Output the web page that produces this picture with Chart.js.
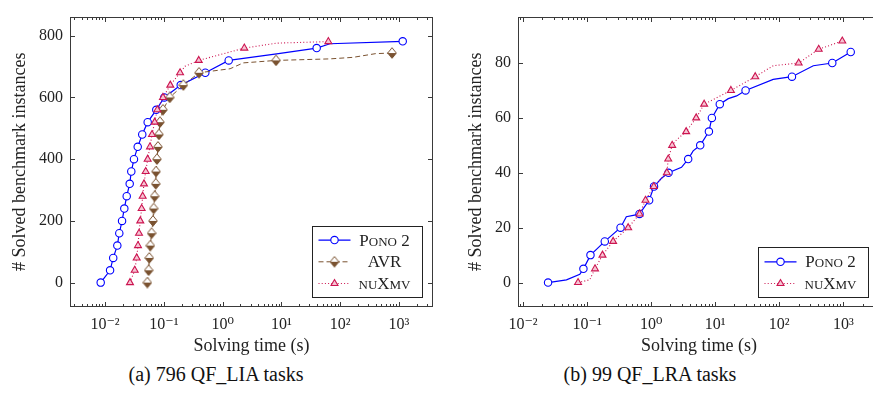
<!DOCTYPE html>
<html>
<head>
<meta charset="utf-8">
<script src="https://cdn.jsdelivr.net/npm/chart.js@4/dist/chart.umd.min.js"></script>
<style>
html, body { margin: 0; padding: 0; background: #fff; overflow: hidden; width: 873px; height: 401px; }
canvas { position: absolute; top: 0; }
#liaChart { left: 0; }
#lraChart { left: 440px; }
.cap { position: absolute; top: 364px; font: 20px/20px "Liberation Serif", serif; color: #111; white-space: nowrap; transform: translateX(-50%); }
</style>
</head>
<body>
<canvas id="liaChart" width="440" height="360"></canvas>
<canvas id="lraChart" width="447" height="360"></canvas>
<div class="cap" style="left:216px">(a) 796 QF_LIA tasks</div>
<div class="cap" style="left:650px">(b) 99 QF_LRA tasks</div>
<script>
// x ticks (log axis, shared by both plots)
const xTickValues = [0.01, 0.1, 1, 10, 100, 1000];
const xTickLabels = ['10⁻²', '10⁻¹', '10⁰', '10¹', '10²', '10³'];

// (a) QF_LIA -- marks every 40 solved, plus the last point
const liaPonoTime    = [0.00845, 0.0122, 0.0138, 0.0162, 0.0175, 0.0195, 0.0213, 0.0234, 0.0263, 0.028, 0.0311, 0.036, 0.043, 0.0532, 0.0745, 0.102, 0.194, 0.508, 1.27, 8.3, 39.8, 67, 1156];
const liaPonoSolved  = [0, 40, 80, 120, 160, 200, 240, 280, 320, 360, 400, 440, 480, 520, 560, 600, 640, 680, 720, 741, 760, 774, 782];
const liaAvrTime     = [0.0525, 0.0553, 0.0567, 0.059, 0.062, 0.0655, 0.0672, 0.0699, 0.073, 0.0738, 0.0766, 0.0795, 0.0828, 0.0861, 0.0968, 0.126, 0.215, 0.397, 1.34, 2.25, 8.1, 67, 166, 400, 760];
const liaAvrSolved   = [0, 40, 80, 120, 160, 200, 240, 280, 320, 360, 400, 440, 480, 520, 560, 600, 640, 680, 693, 712, 720, 725, 730, 742, 744];
const liaNuxmvTime   = [0.0266, 0.032, 0.0346, 0.0364, 0.0379, 0.0398, 0.042, 0.0437, 0.046, 0.0492, 0.0532, 0.0582, 0.063, 0.07, 0.0776, 0.0968, 0.129, 0.189, 0.229, 0.393, 2.34, 8.3, 62.8];
const liaNuxmvSolved = [0, 40, 80, 120, 160, 200, 240, 280, 320, 360, 400, 440, 480, 520, 560, 600, 640, 680, 701, 720, 760, 776, 781];

// (b) QF_LRA -- marks every 5 solved, plus the last point
const lraPonoTime    = [0.0246, 0.0477, 0.077, 0.0877, 0.113, 0.189, 0.333, 0.41, 0.55, 0.659, 0.931, 1.11, 1.45, 1.87, 2.98, 3.79, 4.53, 5.84, 7.98, 8.88, 11.8, 16, 21.6, 29.8, 80.5, 158, 340, 673, 1306];
const lraPonoSolved  = [0, 1, 3, 5, 10, 15, 20, 24, 24.6, 25, 30, 35, 38, 40, 42, 45, 48, 50, 55, 60, 65, 67, 68, 70, 74, 75, 79, 80, 84];
const lraNuxmvTime   = [0.0723, 0.110, 0.133, 0.174, 0.255, 0.438, 0.659, 0.817, 1.10, 1.76, 1.85, 2.13, 2.49, 3.52, 5.05, 6.73, 17.6, 42.2, 80.5, 201, 413, 964];
const lraNuxmvSolved = [0, 1, 5, 10, 15, 20, 25, 30, 35, 40, 45, 50, 52, 55, 60, 65, 70, 75, 79, 80, 85, 88];

const serif = '"Liberation Serif", "DejaVu Serif", serif';
const ink = '#222';
const blue = '#0000ff', brown = '#7a5230', red = '#cc1450';

// diamond with white upper half, like the pgfplots marks
function diamondImage(color) {
  const c = document.createElement('canvas');
  c.width = 10; c.height = 12;
  const g = c.getContext('2d');
  g.beginPath();
  g.moveTo(5, 0.7); g.lineTo(9.3, 6); g.lineTo(5, 11.3); g.lineTo(0.7, 6); g.closePath();
  g.fillStyle = '#fff'; g.fill();
  g.save(); g.clip(); g.fillStyle = color; g.fillRect(0, 6, 10, 6); g.restore();
  g.strokeStyle = color; g.lineWidth = 1; g.stroke();
  return c;
}

const ponoLook = { borderColor: blue, borderWidth: 1.2, pointStyle: 'circle', markRadius: 3.7,
  pointBackgroundColor: '#fff', pointBorderColor: blue, pointBorderWidth: 1.1, order: 2 };
const avrLook = { borderColor: brown, borderWidth: 1, borderDash: [5, 3], pointStyle: diamondImage(brown), markRadius: 5,
  pointBackgroundColor: brown, pointBorderColor: brown, pointBorderWidth: 1, order: 1 };
const nuxmvLook = { borderColor: red, borderWidth: 1.1, borderDash: [1, 2.2], pointStyle: 'triangle', markRadius: 4,
  pointBackgroundColor: '#f6c4d3', pointBorderColor: red, pointBorderWidth: 1.1, order: 0 };

function series(label, times, solved, look, step) {
  return Object.assign({
    label,
    data: times.map((t, i) => ({ x: t, y: solved[i] })),
    tension: 0,
    fill: false,
    pointRadius: c => (c.raw.y % step === 0 || c.dataIndex === c.dataset.data.length - 1) ? look.markRadius : 0
  }, look);
}

function drawMarker(ctx, ds, x, y) {
  const st = ds.pointStyle;
  if (typeof st === 'object') { ctx.drawImage(st, x - st.width / 2, y - st.height / 2); return; }
  const r = ds.markRadius;
  ctx.beginPath();
  if (st === 'triangle') {
    for (let k = 0; k < 3; k++) {
      const ang = k * 2 * Math.PI / 3;
      if (k) ctx.lineTo(x + Math.sin(ang) * r, y - Math.cos(ang) * r);
      else ctx.moveTo(x + Math.sin(ang) * r, y - Math.cos(ang) * r);
    }
    ctx.closePath();
  } else {
    ctx.arc(x, y, r, 0, 2 * Math.PI);
  }
  ctx.fillStyle = ds.pointBackgroundColor; ctx.fill();
  ctx.setLineDash([]);
  ctx.strokeStyle = ds.pointBorderColor; ctx.lineWidth = ds.pointBorderWidth; ctx.stroke();
}

// axis box with inside ticks (log minors too) and the boxed legend
const framePlugin = {
  id: 'frame',
  afterDatasetsDraw(chart, args, o) {
    const { ctx, chartArea: a, scales: { x, y } } = chart;
    const L = Math.round(a.left) + 0.5, R = Math.round(a.right) - 0.5;
    const T = Math.round(a.top) + 0.5, B = Math.round(a.bottom) - 0.5;
    ctx.save();
    ctx.strokeStyle = '#3a3a3a';
    ctx.lineWidth = 1;
    ctx.beginPath();
    for (let k = Math.floor(Math.log10(x.min)); k <= Math.ceil(Math.log10(x.max)); k++) {
      for (let m = 1; m <= 9; m++) {
        const v = m * Math.pow(10, k);
        if (v < x.min || v > x.max) continue;
        const px = Math.round(x.getPixelForValue(v)) + 0.5;
        const len = m === 1 ? 4.5 : 2.5;
        ctx.moveTo(px, B); ctx.lineTo(px, B - len);
        ctx.moveTo(px, T); ctx.lineTo(px, T + len);
      }
    }
    y.ticks.forEach(t => {
      const py = Math.round(y.getPixelForValue(t.value)) + 0.5;
      ctx.moveTo(L, py); ctx.lineTo(L + 4.5, py);
      ctx.moveTo(R, py); ctx.lineTo(R - 4.5, py);
    });
    ctx.stroke();
    ctx.strokeRect(L, T, R - L, B - T);

    const lg = o.legend;
    const bx = Math.round(a.right - lg.right - lg.width) + 0.5;
    const by = Math.round(a.bottom - lg.bottom - lg.height) + 0.5;
    ctx.fillStyle = '#fff';
    ctx.fillRect(bx, by, lg.width, lg.height);
    ctx.strokeStyle = '#222';
    ctx.strokeRect(bx, by, lg.width, lg.height);
    lg.items.forEach((it, i) => {
      const ds = chart.data.datasets[it.ds];
      const cy = by + lg.first + i * lg.gap;
      ctx.save();
      ctx.strokeStyle = ds.borderColor; ctx.lineWidth = ds.borderWidth;
      ctx.setLineDash(ds.borderDash || []);
      ctx.beginPath(); ctx.moveTo(bx + 6, cy); ctx.lineTo(bx + 38, cy); ctx.stroke();
      ctx.restore();
      drawMarker(ctx, ds, bx + 22, cy);
      let w = 0;
      it.parts.forEach(([s, small]) => { ctx.font = (small ? 13 : 17) + 'px ' + serif; w += ctx.measureText(s).width; });
      let tx = bx + 72 - w / 2;
      ctx.fillStyle = ink;
      ctx.textBaseline = 'alphabetic';
      it.parts.forEach(([s, small]) => {
        ctx.font = (small ? 13 : 17) + 'px ' + serif;
        ctx.fillText(s, tx, cy + 5.5);
        tx += ctx.measureText(s).width;
      });
    });
    ctx.restore();
  }
};

const ponoParts = [['P', 0], ['ONO', 1], [' 2', 0]];
const avrParts = [['AVR', 0]];
const nuxmvParts = [['NU', 1], ['X', 0], ['MV', 1]];

function buildChart(id, datasets, ax) {
  return new Chart(document.getElementById(id), {
    type: 'line',
    data: { datasets },
    plugins: [framePlugin],
    options: {
      responsive: false,
      animation: false,
      devicePixelRatio: 1,
      layout: { padding: { top: 5, right: 7, left: 0, bottom: 0 } },
      plugins: { legend: { display: false }, tooltip: { enabled: false }, frame: { legend: ax.legend } },
      scales: {
        x: {
          type: 'logarithmic', min: ax.xMin, max: ax.xMax,
          grid: { display: false, drawTicks: false }, border: { display: false },
          afterBuildTicks: s => { s.ticks = xTickValues.map(v => ({ value: v })); },
          afterFit: s => { s.height = 53; },
          ticks: { autoSkip: false, maxRotation: 0, padding: 8, color: ink, font: { family: serif, size: 16 },
            callback: (v, i) => xTickLabels[i] },
          title: { display: true, text: 'Solving time (s)', color: ink, font: { family: serif, size: 18 }, padding: { top: 0, bottom: 3 } }
        },
        y: {
          min: ax.yMin, max: ax.yMax,
          grid: { display: false, drawTicks: false }, border: { display: false },
          afterFit: s => { s.width = ax.yWidth; },
          ticks: { stepSize: ax.yStep, includeBounds: false, padding: 7, color: ink, font: { family: serif, size: 16 } },
          title: { display: true, text: '# Solved benchmark instances', color: ink, font: { family: serif, size: 18 }, padding: { top: ax.yTitlePad } }
        }
      }
    }
  });
}

buildChart('liaChart', [
  series('Pono 2', liaPonoTime, liaPonoSolved, ponoLook, 40),
  series('AVR', liaAvrTime, liaAvrSolved, avrLook, 40),
  series('nuXmv', liaNuxmvTime, liaNuxmvSolved, nuxmvLook, 40)
], {
  xMin: 0.00254, xMax: 3784, yMin: -79, yMax: 862, yStep: 200, yWidth: 70, yTitlePad: 9,
  legend: { width: 110, height: 71, right: 11, bottom: 10, first: 13.6, gap: 21.7,
    items: [{ ds: 0, parts: ponoParts }, { ds: 1, parts: avrParts }, { ds: 2, parts: nuxmvParts }] }
});

buildChart('lraChart', [
  series('Pono 2', lraPonoTime, lraPonoSolved, ponoLook, 5),
  series('nuXmv', lraNuxmvTime, lraNuxmvSolved, nuxmvLook, 5)
], {
  xMin: 0.00835, xMax: 3741, yMin: -8.9, yMax: 96.9, yStep: 20, yWidth: 78, yTitlePad: 25,
  legend: { width: 110, height: 50, right: 12, bottom: 10, first: 14.3, gap: 21.7,
    items: [{ ds: 0, parts: ponoParts }, { ds: 1, parts: nuxmvParts }] }
});
</script>
</body>
</html>
